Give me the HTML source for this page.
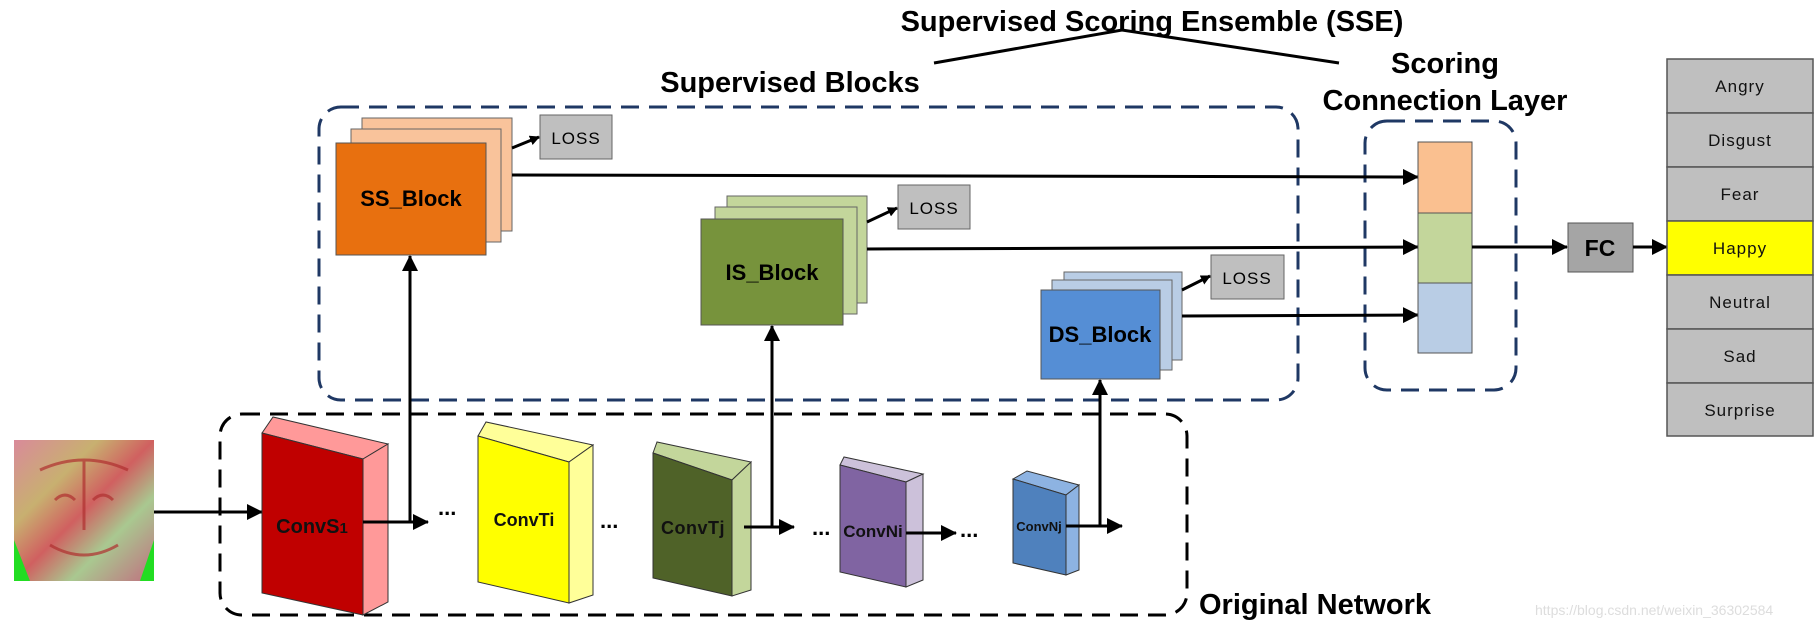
<!DOCTYPE html>
<html><head><meta charset="utf-8"><style>
html,body{margin:0;padding:0;background:#fff;width:1817px;height:627px;overflow:hidden}
svg{display:block}
text{font-family:"Liberation Sans",Arial,sans-serif}
</style></head><body>
<svg width="1817" height="627" viewBox="0 0 1817 627" xmlns="http://www.w3.org/2000/svg">
<defs>
<marker id="ah" markerWidth="10" markerHeight="10" refX="9" refY="5" orient="auto" markerUnits="userSpaceOnUse"><path d="M0,0 L10,5 L0,10 z" fill="#000"/></marker>
<marker id="ab" markerWidth="16" markerHeight="16" refX="15" refY="8" orient="auto" markerUnits="userSpaceOnUse"><path d="M0,0 L16,8 L0,16 z" fill="#000"/></marker>
<linearGradient id="fg1" x1="0" y1="0" x2="1" y2="1"><stop offset="0" stop-color="#d98a9a"/><stop offset="0.3" stop-color="#c8b070"/><stop offset="0.5" stop-color="#d06060"/><stop offset="0.7" stop-color="#a9c890"/><stop offset="1" stop-color="#c07080"/></linearGradient>
</defs>

<text x="1152" y="31" font-size="29" font-weight="bold" text-anchor="middle">Supervised Scoring Ensemble (SSE)</text>
<polyline points="934,63 1122,30 1339,63" fill="none" stroke="#000" stroke-width="3"/>
<text x="790" y="92" font-size="29" font-weight="bold" text-anchor="middle">Supervised Blocks</text>
<text x="1445" y="73" font-size="29" font-weight="bold" text-anchor="middle">Scoring</text>
<text x="1445" y="110" font-size="29" font-weight="bold" text-anchor="middle">Connection Layer</text>
<text x="1199" y="614" font-size="29" font-weight="bold">Original Network</text>
<text x="1535" y="615" font-size="14" fill="#ddd">https://blog.csdn.net/weixin_36302584</text>

<rect x="319" y="107" width="979" height="293" rx="22" fill="none" stroke="#1f3864" stroke-width="3" stroke-dasharray="18 10"/>
<rect x="1365" y="121" width="151" height="269" rx="22" fill="none" stroke="#1f3864" stroke-width="3" stroke-dasharray="18 10"/>
<rect x="220" y="414" width="967" height="201" rx="22" fill="none" stroke="#000" stroke-width="3" stroke-dasharray="18 10"/>

<rect x="362" y="118" width="150" height="113" fill="#f9c39b" stroke="#666" stroke-width="1"/>
<rect x="351" y="129" width="150" height="113" fill="#f9c39b" stroke="#666" stroke-width="1"/>
<rect x="336" y="143" width="150" height="112" fill="#e8700f" stroke="#555" stroke-width="1"/>
<text x="411" y="206" font-size="22" font-weight="bold" text-anchor="middle">SS_Block</text>
<rect x="540" y="115" width="72" height="44" fill="#bfbfbf" stroke="#666"/>
<text x="576" y="144" font-size="17" letter-spacing="1" text-anchor="middle">LOSS</text>
<line x1="512" y1="148" x2="539" y2="137" stroke="#000" stroke-width="3" marker-end="url(#ah)"/>

<rect x="727" y="196" width="140" height="107" fill="#c3d69b" stroke="#666" stroke-width="1"/>
<rect x="715" y="207" width="142" height="107" fill="#c3d69b" stroke="#666" stroke-width="1"/>
<rect x="701" y="219" width="142" height="106" fill="#77933c" stroke="#555" stroke-width="1"/>
<text x="772" y="280" font-size="22" font-weight="bold" text-anchor="middle">IS_Block</text>
<rect x="898" y="185" width="72" height="44" fill="#bfbfbf" stroke="#666"/>
<text x="934" y="214" font-size="17" letter-spacing="1" text-anchor="middle">LOSS</text>
<line x1="867" y1="222" x2="897" y2="208" stroke="#000" stroke-width="3" marker-end="url(#ah)"/>

<rect x="1064" y="272" width="118" height="88" fill="#b9cde5" stroke="#666" stroke-width="1"/>
<rect x="1052" y="280" width="120" height="90" fill="#b9cde5" stroke="#666" stroke-width="1"/>
<rect x="1041" y="290" width="119" height="89" fill="#558ed5" stroke="#555" stroke-width="1"/>
<text x="1100" y="342" font-size="22" font-weight="bold" text-anchor="middle">DS_Block</text>
<rect x="1211" y="255" width="73" height="44" fill="#bfbfbf" stroke="#666"/>
<text x="1247" y="284" font-size="17" letter-spacing="1" text-anchor="middle">LOSS</text>
<line x1="1182" y1="290" x2="1210" y2="276" stroke="#000" stroke-width="3" marker-end="url(#ah)"/>

<line x1="512" y1="175" x2="1418" y2="177" stroke="#000" stroke-width="3" marker-end="url(#ab)"/>
<line x1="867" y1="249" x2="1418" y2="247" stroke="#000" stroke-width="3" marker-end="url(#ab)"/>
<line x1="1182" y1="316" x2="1418" y2="315" stroke="#000" stroke-width="3" marker-end="url(#ab)"/>

<rect x="1418" y="142" width="54" height="71" fill="#fac090" stroke="#555"/>
<rect x="1418" y="213" width="54" height="70" fill="#c3d69b" stroke="#555"/>
<rect x="1418" y="283" width="54" height="70" fill="#b9cde5" stroke="#555"/>
<line x1="1472" y1="247" x2="1567" y2="247" stroke="#000" stroke-width="3" marker-end="url(#ab)"/>
<rect x="1568" y="223" width="65" height="49" fill="#a5a5a5" stroke="#555"/>
<text x="1600" y="256" font-size="23" font-weight="bold" text-anchor="middle">FC</text>
<line x1="1633" y1="247" x2="1667" y2="247" stroke="#000" stroke-width="3" marker-end="url(#ab)"/>

<g stroke="#555" stroke-width="1.5">
<rect x="1667" y="59" width="146" height="54" fill="#bfbfbf"/>
<rect x="1667" y="113" width="146" height="54" fill="#bfbfbf"/>
<rect x="1667" y="167" width="146" height="54" fill="#bfbfbf"/>
<rect x="1667" y="221" width="146" height="54" fill="#ffff00"/>
<rect x="1667" y="275" width="146" height="54" fill="#bfbfbf"/>
<rect x="1667" y="329" width="146" height="54" fill="#bfbfbf"/>
<rect x="1667" y="383" width="146" height="53" fill="#bfbfbf"/>
</g>
<g font-size="17" text-anchor="middle" fill="#111" letter-spacing="1">
<text x="1740" y="92">Angry</text>
<text x="1740" y="146">Disgust</text>
<text x="1740" y="200">Fear</text>
<text x="1740" y="254">Happy</text>
<text x="1740" y="308">Neutral</text>
<text x="1740" y="362">Sad</text>
<text x="1740" y="416">Surprise</text>
</g>

<rect x="14" y="440" width="140" height="141" fill="url(#fg1)"/>
<polygon points="14,540 30,581 14,581" fill="#22dd22"/>
<polygon points="154,540 140,581 154,581" fill="#22dd22"/>
<g stroke="#b03030" stroke-width="3" fill="none" opacity="0.7">
<path d="M40,470 Q84,450 128,470"/><path d="M50,545 Q84,565 118,545"/>
<path d="M84,460 L84,530"/><path d="M55,500 Q65,490 75,500"/><path d="M93,500 Q103,490 113,500"/>
</g>
<line x1="154" y1="512" x2="262" y2="512" stroke="#000" stroke-width="3" marker-end="url(#ab)"/>

<g stroke="#333" stroke-width="1">
<polygon points="262,433 273,417 388,444 363,459" fill="#ff9999"/>
<polygon points="363,459 388,444 388,602 363,615" fill="#ff9999"/>
<polygon points="262,433 363,459 363,615 262,593" fill="#c00000"/>
<polygon points="478,436 486,422 593,445 569,462" fill="#ffff99"/>
<polygon points="569,462 593,445 593,595 569,603" fill="#ffff99"/>
<polygon points="478,436 569,462 569,603 478,582" fill="#ffff00"/>
<polygon points="653,453 657,442 751,462 732,480" fill="#c3d69b"/>
<polygon points="732,480 751,462 751,590 732,596" fill="#c3d69b"/>
<polygon points="653,453 732,480 732,596 653,578" fill="#4f6228"/>
<polygon points="840,465 844,457 923,474 906,482" fill="#ccc1da"/>
<polygon points="906,482 923,474 923,580 906,587" fill="#ccc1da"/>
<polygon points="840,465 906,482 906,587 840,572" fill="#8064a2"/>
<polygon points="1013,479 1027,471 1079,485 1066,495" fill="#8db3e2"/>
<polygon points="1066,495 1079,485 1079,570 1066,575" fill="#8db3e2"/>
<polygon points="1013,479 1066,495 1066,575 1013,563" fill="#4f81bd"/>
</g>
<g font-weight="bold" text-anchor="middle" fill="#111">
<text x="312" y="533" font-size="20">ConvS<tspan font-size="15">1</tspan></text>
<text x="524" y="526" font-size="18">ConvTi</text>
<text x="693" y="534" font-size="18" letter-spacing="0.5">ConvTj</text>
<text x="873" y="537" font-size="17">ConvNi</text>
<text x="1039" y="531" font-size="13">ConvNj</text>
</g>

<g stroke="#000" stroke-width="3">
<line x1="363" y1="522" x2="428" y2="522" marker-end="url(#ab)"/>
<line x1="744" y1="527" x2="794" y2="527" marker-end="url(#ab)"/>
<line x1="906" y1="533" x2="956" y2="533" marker-end="url(#ab)"/>
<line x1="1066" y1="526" x2="1122" y2="526" marker-end="url(#ab)"/>
<line x1="410" y1="522" x2="410" y2="256" marker-end="url(#ab)"/>
<line x1="772" y1="527" x2="772" y2="326" marker-end="url(#ab)"/>
<line x1="1100" y1="526" x2="1100" y2="380" marker-end="url(#ab)"/>
</g>
<g font-size="22" font-weight="bold">
<text x="438" y="515">...</text>
<text x="600" y="528">...</text>
<text x="812" y="535">...</text>
<text x="960" y="537">...</text>
</g>
</svg>
</body></html>
